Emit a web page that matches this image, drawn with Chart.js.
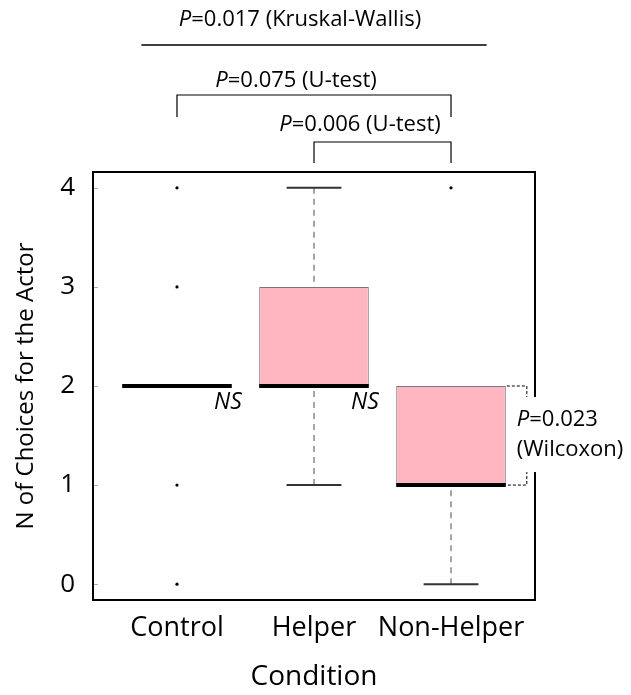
<!DOCTYPE html>
<html lang="en">
<head>
<meta charset="UTF-8">
<title>N of Choices for the Actor</title>
<script src="https://cdn.jsdelivr.net/npm/chart.js"></script>
<style>
  body { margin: 0; background: #fff; }
  #wrap { width: 631px; height: 695px; }
</style>
</head>
<body>
<div id="wrap"><canvas id="myChart"></canvas></div>
<script>
// box plot data, one entry per condition
const groups = ['Control', 'Helper', 'Non-Helper'];
const q1 = [2, 2, 1];
const q3 = [2, 3, 2];
const medians = [2, 2, 1];
const whiskerLow = [2, 1, 0];
const whiskerHigh = [2, 4, 2];
const outliers = [[0, 1, 3, 4], [], [4]];
const yTicks = [0, 1, 2, 3, 4];

const FONT = '"Open Sans", sans-serif';

// draws an italic "P" followed by the rest of the text
function drawP(ctx, rest, x, y, size, align) {
    ctx.font = `italic ${size}px ${FONT}`;
    const wP = ctx.measureText('P').width;
    ctx.font = `${size}px ${FONT}`;
    const wR = ctx.measureText(rest).width;
    let left = x;
    if (align === 'center') left = x - (wP + wR) / 2;
    ctx.textAlign = 'left';
    ctx.textBaseline = 'middle';
    ctx.fillStyle = '#000';
    ctx.font = `italic ${size}px ${FONT}`;
    ctx.fillText('P', left, y);
    ctx.font = `${size}px ${FONT}`;
    ctx.fillText(rest, left + wP, y);
}

const boxPlot = {
    id: 'boxPlot',
    beforeDatasetsDraw(chart) {
        const {ctx, chartArea: a, scales: {x, y}} = chart;
        const bars = chart.getDatasetMeta(0).data;
        ctx.save();
        // frame
        ctx.strokeStyle = '#000';
        ctx.lineWidth = 2;
        ctx.strokeRect(a.left, a.top, a.right - a.left, a.bottom - a.top);
        // small ticks inside the left border
        ctx.strokeStyle = '#aaa';
        ctx.lineWidth = 1;
        yTicks.forEach(v => {
            const py = Math.round(y.getPixelForValue(v)) + 0.5;
            ctx.beginPath();
            ctx.moveTo(a.left + 1, py);
            ctx.lineTo(a.left + 5, py);
            ctx.stroke();
        });
        // whiskers and caps
        groups.forEach((g, i) => {
            const cx = x.getPixelForValue(i);
            const cap = bars[i].width / 4;
            [[whiskerLow[i], q1[i]], [whiskerHigh[i], q3[i]]].forEach(([w, edge]) => {
                if (w === edge) return;
                const pw = y.getPixelForValue(w);
                const pe = y.getPixelForValue(edge);
                ctx.strokeStyle = '#888';
                ctx.lineWidth = 1.5;
                ctx.setLineDash([6, 5]);
                ctx.beginPath();
                ctx.moveTo(cx, pw);
                ctx.lineTo(cx, pe);
                ctx.stroke();
                ctx.setLineDash([]);
                ctx.strokeStyle = '#333';
                ctx.lineWidth = 2;
                ctx.beginPath();
                ctx.moveTo(cx - cap, pw);
                ctx.lineTo(cx + cap, pw);
                ctx.stroke();
            });
        });
        ctx.restore();
    },
    afterDatasetsDraw(chart) {
        const {ctx, scales: {x, y}} = chart;
        const bars = chart.getDatasetMeta(0).data;
        ctx.save();
        ctx.strokeStyle = '#000';
        ctx.lineWidth = 4;
        groups.forEach((g, i) => {
            const cx = x.getPixelForValue(i);
            const half = bars[i].width / 2;
            const py = y.getPixelForValue(medians[i]);
            ctx.beginPath();
            ctx.moveTo(cx - half, py);
            ctx.lineTo(cx + half, py);
            ctx.stroke();
        });
        ctx.restore();
    }
};

const annotations = {
    id: 'annotations',
    afterDraw(chart) {
        const {ctx, chartArea: a, scales: {x, y}} = chart;
        const bars = chart.getDatasetMeta(0).data;
        const top = a.top;
        ctx.save();

        // Kruskal-Wallis
        drawP(ctx, '=0.017 (Kruskal-Wallis)', 300, top - 152, 22, 'center');
        ctx.strokeStyle = '#000';
        ctx.lineWidth = 1.5;
        ctx.beginPath();
        ctx.moveTo(x.getPixelForValue(-0.26), top - 127);
        ctx.lineTo(x.getPixelForValue(2.26), top - 127);
        ctx.stroke();

        // U-test brackets
        const bracket = (i0, i1, yTop, yLeg) => {
            ctx.beginPath();
            ctx.moveTo(x.getPixelForValue(i0), yLeg);
            ctx.lineTo(x.getPixelForValue(i0), yTop);
            ctx.lineTo(x.getPixelForValue(i1), yTop);
            ctx.lineTo(x.getPixelForValue(i1), yLeg);
            ctx.stroke();
        };
        ctx.lineWidth = 1.2;
        drawP(ctx, '=0.075 (U-test)', 296, top - 91, 22, 'center');
        bracket(0, 2, top - 77, top - 55);
        drawP(ctx, '=0.006 (U-test)', 360, top - 47, 22, 'center');
        bracket(1, 2, top - 30, top - 9);

        // NS labels
        ctx.font = `italic 23px ${FONT}`;
        ctx.fillStyle = '#000';
        ctx.textAlign = 'left';
        ctx.textBaseline = 'middle';
        [0, 1].forEach(i => {
            ctx.fillText('NS', x.getPixelForValue(i + 0.27), y.getPixelForValue(2) + 16);
        });

        // Wilcoxon bracket on the Non-Helper box
        const x0 = bars[2].x + bars[2].width / 2 + 1;
        const x1 = x0 + 20;
        const yA = y.getPixelForValue(q3[2]);
        const yB = y.getPixelForValue(q1[2]);
        ctx.strokeStyle = '#000';
        ctx.lineWidth = 1;
        ctx.setLineDash([3, 2]);
        ctx.beginPath();
        ctx.moveTo(x0, yA);
        ctx.lineTo(x1, yA);
        ctx.lineTo(x1, yB);
        ctx.lineTo(x0, yB);
        ctx.stroke();
        ctx.setLineDash([]);
        ctx.fillStyle = '#fff';
        ctx.fillRect(x1 - 12, yA + 11, 140, yB - yA - 24);
        drawP(ctx, '=0.023', x1 - 10, yA + 34, 22, 'left');
        ctx.font = `22px ${FONT}`;
        ctx.fillText('(Wilcoxon)', x1 - 10, yA + 64);
        ctx.restore();
    }
};

const ctx = document.getElementById('myChart').getContext('2d');
new Chart(ctx, {
    type: 'bar',
    data: {
        datasets: [{
            type: 'bar',
            data: groups.map((g, i) => ({x: i, y: [q1[i], q3[i]]})),
            backgroundColor: '#FFB6C1',
            borderColor: '#777',
            borderWidth: 1,
            borderSkipped: false,
            categoryPercentage: 0.8,
            barPercentage: 1
        }, {
            type: 'scatter',
            data: outliers.flatMap((vals, i) => vals.map(v => ({x: i, y: v}))),
            pointRadius: 1.6,
            backgroundColor: '#000',
            borderWidth: 0
        }]
    },
    options: {
        responsive: true,
        maintainAspectRatio: false,
        animation: false,
        layout: {padding: {top: 172, right: 96, left: 0, bottom: 0}},
        plugins: {legend: {display: false}, tooltip: {enabled: false}},
        scales: {
            x: {
                type: 'linear',
                min: -0.613,
                max: 2.613,
                offset: false,
                grid: {display: false, drawTicks: false, offset: false},
                border: {display: false},
                afterBuildTicks: s => { s.ticks = groups.map((g, i) => ({value: i})); },
                afterFit: s => { s.height = 95; },
                ticks: {
                    callback: v => groups[v],
                    font: {size: 27, family: FONT},
                    color: '#000',
                    padding: 12,
                    maxRotation: 0,
                    autoSkip: false
                },
                title: {
                    display: true,
                    text: 'Condition',
                    font: {size: 28, family: FONT},
                    color: '#000',
                    padding: {top: 0, bottom: 1}
                }
            },
            y: {
                type: 'linear',
                min: -0.16,
                max: 4.16,
                grid: {display: false, drawTicks: false},
                border: {display: false},
                afterBuildTicks: s => { s.ticks = yTicks.map(v => ({value: v})); },
                afterFit: s => { s.width = 93; },
                ticks: {
                    font: {size: 26, family: FONT},
                    color: '#000',
                    padding: 18
                },
                title: {
                    display: true,
                    text: 'N of Choices for the Actor',
                    font: {size: 24, family: FONT},
                    color: '#000',
                    padding: {top: 12, bottom: 0}
                }
            }
        }
    },
    plugins: [boxPlot, annotations]
});
</script>
</body>
</html>
